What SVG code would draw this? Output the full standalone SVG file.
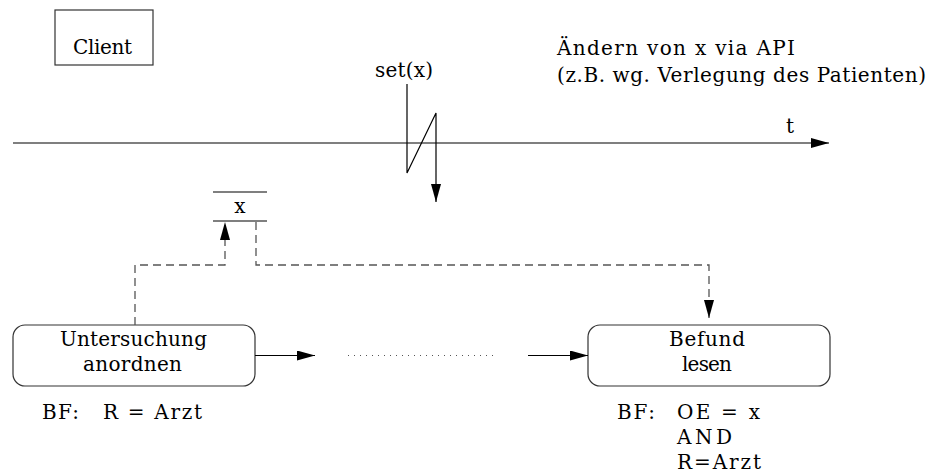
<svg xmlns="http://www.w3.org/2000/svg" width="931" height="475" viewBox="0 0 931 475">
<style>
text{font-family:'DejaVu Serif','Liberation Serif',serif;font-size:20px;fill:#000}
.box{fill:none;stroke:#333;stroke-width:1.2}
.ln{fill:none;stroke:#000;stroke-width:1.2}
.gr{fill:none;stroke:#555;stroke-width:1.6}
.da{fill:none;stroke:#555;stroke-width:1.3;stroke-dasharray:8,5}
.dot{fill:none;stroke:#555;stroke-width:1.2;stroke-dasharray:1,5}
</style>
<defs>
<marker id="ah" markerWidth="18" markerHeight="10" refX="18" refY="5" orient="auto" markerUnits="userSpaceOnUse">
<path d="M0,0 L18,5 L0,10 Z" fill="#000"/>
</marker>
</defs>
<g id="client">
<rect class="box" x="55" y="10" width="98" height="55"/>
<text x="73" y="54" font-size="20" textLength="59">Client</text>
</g>
<g id="note">
<text x="557" y="55" textLength="238">Ändern von x via API</text>
<text x="557" y="82" textLength="369">(z.B. wg. Verlegung des Patienten)</text>
</g>
<g id="timeline">
<line class="gr" x1="13" y1="143" x2="829" y2="143" marker-end="url(#ah)"/>
<text x="786" y="133">t</text>
</g>
<g id="setx">
<text x="375" y="77" textLength="58">set(x)</text>
<polyline class="ln" points="407,84 407,173 436,113 436,202" marker-end="url(#ah)"/>
</g>
<g id="var-x">
<line class="ln" x1="213" y1="192" x2="267" y2="192"/>
<line class="ln" x1="213" y1="221" x2="267" y2="221"/>
<text x="240" y="213" text-anchor="middle">x</text>
</g>
<g id="untersuchung">
<rect class="box" x="13" y="325" width="242" height="61" rx="12"/>
<text x="60" y="346" textLength="147">Untersuchung</text>
<text x="83" y="371" textLength="99">anordnen</text>
<text x="42" y="419" textLength="37">BF:</text>
<text x="103" y="419" textLength="99">R = Arzt</text>
</g>
<g id="befund">
<rect class="box" x="588" y="325" width="242" height="61" rx="12"/>
<text x="669" y="346" textLength="76">Befund</text>
<text x="682" y="371" textLength="50">lesen</text>
<text x="617" y="419" textLength="38">BF:</text>
<text x="677" y="419" textLength="83">OE = x</text>
<text x="677" y="444" textLength="55">AND</text>
<text x="677" y="469" textLength="84">R=Arzt</text>
</g>
<g id="connectors">
<line class="ln" x1="255" y1="355.5" x2="315" y2="355.5" marker-end="url(#ah)"/>
<line class="dot" x1="348" y1="355.5" x2="497" y2="355.5"/>
<line class="ln" x1="528" y1="355.5" x2="588" y2="355.5" marker-end="url(#ah)"/>
<polyline class="da" points="135,325 135,265 225,265 225,222" marker-end="url(#ah)"/>
<polyline class="da" points="256,222 256,265 709,265 709,318" marker-end="url(#ah)"/>
</g>
</svg>
